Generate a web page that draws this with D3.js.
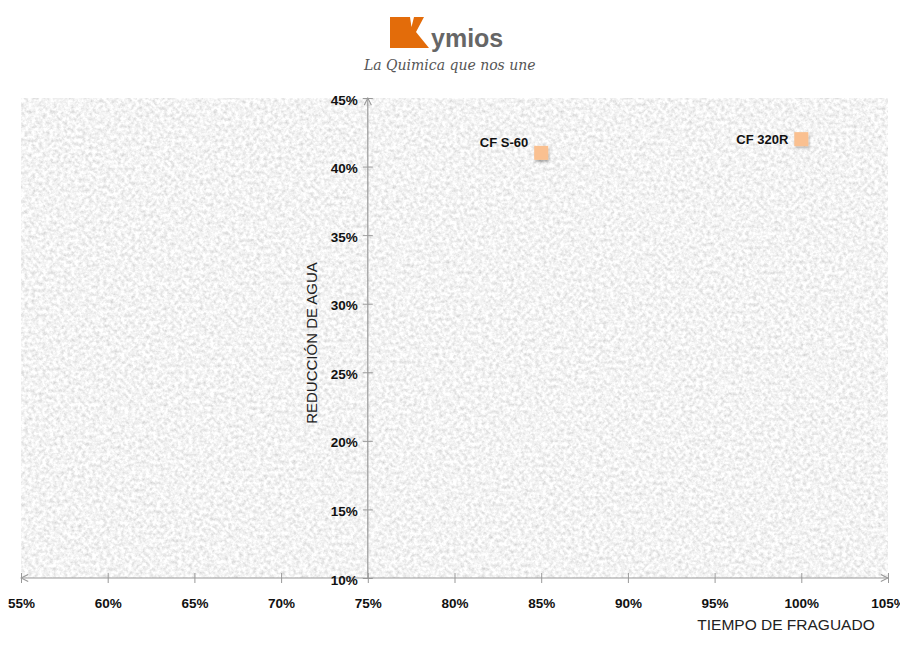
<!DOCTYPE html>
<html>
<head>
<meta charset="utf-8">
<script src="https://cdn.jsdelivr.net/npm/d3@7"></script>
<style>
body { margin: 0; background: #fff; }
text { font-family: "Liberation Sans", "DejaVu Sans", sans-serif; }
</style>
</head>
<body>
<div id="chart"></div>
<script>
// data
var productNames = ["CF S-60", "CF 320R"];
var fraguado = [0.85, 1.00];
var reduccion = [0.41, 0.42];
var xTicks = [0.55, 0.60, 0.65, 0.70, 0.75, 0.80, 0.85, 0.90, 0.95, 1.00, 1.05];
var yTicks = [0.10, 0.15, 0.20, 0.25, 0.30, 0.35, 0.40, 0.45];

var width = 900, height = 671;
var plot = { left: 21, right: 888, top: 98, bottom: 578 };

var svg = d3.select("#chart")
  .append("svg")
  .attr("width", width)
  .attr("height", height);

var defs = svg.append("defs");

// granite-ish texture for the plot area
var f = defs.append("filter").attr("id", "granite")
  .attr("x", 0).attr("y", 0).attr("width", 1).attr("height", 1);
f.append("feTurbulence")
  .attr("type", "fractalNoise")
  .attr("baseFrequency", 0.28)
  .attr("numOctaves", 4)
  .attr("seed", 7)
  .attr("result", "noise");
f.append("feColorMatrix")
  .attr("in", "noise")
  .attr("type", "matrix")
  .attr("values", "0.6 0 0 0 0.6  0.6 0 0 0 0.6  0.6 0 0 0 0.6  0 0 0 0 1");

var shadow = defs.append("filter").attr("id", "shadow")
  .attr("x", -0.5).attr("y", -0.5).attr("width", 2).attr("height", 2);
shadow.append("feDropShadow")
  .attr("dx", 1).attr("dy", 2).attr("stdDeviation", 1.2)
  .attr("flood-color", "#000").attr("flood-opacity", 0.3);

// arrow markers
defs.append("marker").attr("id", "arrow")
  .attr("viewBox", "0 0 10 10")
  .attr("refX", 9).attr("refY", 5)
  .attr("markerWidth", 9).attr("markerHeight", 9)
  .attr("markerUnits", "userSpaceOnUse")
  .attr("orient", "auto-start-reverse")
  .append("path")
  .attr("d", "M1,1 L9,5 L1,9")
  .attr("fill", "none")
  .attr("stroke", "#999")
  .attr("stroke-width", 1.2);

svg.append("rect")
  .attr("x", plot.left)
  .attr("y", plot.top)
  .attr("width", plot.right - plot.left)
  .attr("height", plot.bottom - plot.top)
  .attr("fill", "#e6e6e6")
  .attr("filter", "url(#granite)");

var x = d3.scaleLinear().domain([0.55, 1.05]).range([plot.left, plot.right]);
var y = d3.scaleLinear().domain([0.10, 0.45]).range([plot.bottom, plot.top]);
var pct = d3.format(".0%");

// X axis (crosses at y = 10%)
var xAxis = svg.append("g")
  .attr("transform", "translate(0," + y(0.10) + ")")
  .call(d3.axisBottom(x).tickValues(xTicks).tickFormat(pct).tickSize(0));
xAxis.select(".domain").remove();
xAxis.append("line")
  .attr("x1", x(0.55)).attr("x2", x(1.05))
  .attr("stroke", "#999").attr("stroke-width", 1.2)
  .attr("marker-start", "url(#arrow)")
  .attr("marker-end", "url(#arrow)");
xAxis.selectAll(".tick").append("line")
  .attr("y1", -5).attr("y2", 5)
  .attr("stroke", "#999").attr("stroke-width", 1);
xAxis.selectAll(".tick text")
  .attr("y", 20)
  .attr("fill", "#111")
  .style("font-size", "13.5px")
  .style("font-weight", "bold");

// Y axis (crosses at x = 75%)
var yAxis = svg.append("g")
  .attr("transform", "translate(" + x(0.75) + ",0)")
  .call(d3.axisLeft(y).tickValues(yTicks).tickFormat(pct).tickSize(0));
yAxis.select(".domain").remove();
yAxis.append("line")
  .attr("y1", y(0.10)).attr("y2", y(0.45))
  .attr("stroke", "#999").attr("stroke-width", 1.2)
  .attr("marker-end", "url(#arrow)");
yAxis.selectAll(".tick").append("line")
  .attr("x1", -5).attr("x2", 5)
  .attr("stroke", "#999").attr("stroke-width", 1);
yAxis.selectAll(".tick text")
  .attr("x", -10)
  .attr("dy", "0.45em")
  .attr("fill", "#111")
  .style("font-size", "13.5px")
  .style("font-weight", "bold");

// points
var points = productNames.map(function(n, i) {
  return { name: n, fx: fraguado[i], ry: reduccion[i] };
});

svg.selectAll(".pt")
  .data(points)
  .enter().append("rect")
  .attr("class", "pt")
  .attr("x", function(d) { return x(d.fx) - 7; })
  .attr("y", function(d) { return y(d.ry) - 7; })
  .attr("width", 14).attr("height", 14)
  .attr("fill", "#fac090")
  .attr("filter", "url(#shadow)");

svg.selectAll(".lbl")
  .data(points)
  .enter().append("text")
  .attr("class", "lbl")
  .attr("x", function(d) { return x(d.fx) - 13; })
  .attr("y", function(d, i) { return y(d.ry) + (i === 0 ? -6 : 5); })
  .attr("text-anchor", "end")
  .attr("fill", "#111")
  .style("font-size", "13px")
  .style("font-weight", "bold")
  .text(function(d) { return d.name; });

// axis titles
svg.append("text")
  .attr("transform", "translate(317," + ((y(0.10) + y(0.45)) / 2 + 5) + ") rotate(-90)")
  .attr("text-anchor", "middle")
  .attr("fill", "#222")
  .style("font-size", "15px")
  .text("REDUCCIÓN DE AGUA");

svg.append("text")
  .attr("x", 786).attr("y", 630)
  .attr("text-anchor", "middle")
  .attr("fill", "#222")
  .style("font-size", "15.5px")
  .text("TIEMPO DE FRAGUADO");

// logo
var logo = svg.append("g");
logo.append("path")
  .attr("d", "M390,17 L410,17 L411.5,27 L414,17 L424,17 L416,32 L429,48 L390,48 Z")
  .attr("fill", "#e36c0a");
logo.append("text")
  .attr("x", 431).attr("y", 47)
  .attr("fill", "#666")
  .style("font-size", "25px")
  .style("font-weight", "bold")
  .text("ymios");
logo.append("text")
  .attr("x", 364).attr("y", 70)
  .attr("fill", "#555")
  .style("font-family", "'DejaVu Serif', serif")
  .style("font-style", "italic")
  .style("font-size", "14px")
  .text("La Quimica que nos une");
</script>
</body>
</html>
